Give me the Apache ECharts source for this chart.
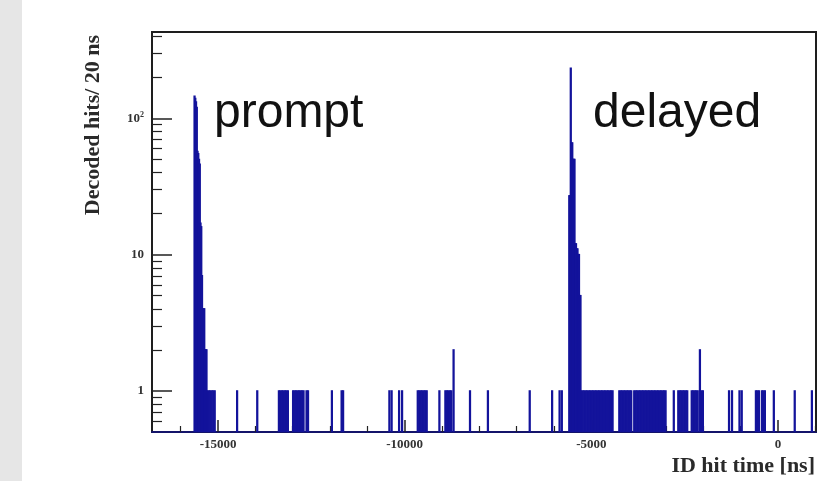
<!DOCTYPE html>
<html>
<head>
<meta charset="utf-8">
<script src="https://cdn.jsdelivr.net/npm/echarts@6/dist/echarts.min.js"></script>
<style>
  html, body { margin: 0; padding: 0; background: #ffffff; }
  #chart { width: 840px; height: 481px; }
</style>
</head>
<body>
<div id="chart"></div>
<script>
// Histogram of decoded ID hits, 20 ns bins (bin start time in ns -> hits)
const binWidthNs = 20;

// Prompt burst
const promptPeakTimes = [-15640, -15620, -15600, -15580, -15560, -15540, -15520, -15500,
  -15480, -15460, -15440, -15420, -15400, -15380, -15360, -15340, -15320];
const promptPeakCounts = [145, 140, 132, 120, 57, 55, 50, 46,
  17, 16, 7, 4, 4, 4, 2, 2, 2];

// Delayed burst
const delayedPeakTimes = [-5600, -5580, -5560, -5540, -5520, -5500, -5480, -5460,
  -5440, -5420, -5400, -5380, -5360, -5340, -5320, -5300];
const delayedPeakCounts = [27, 27, 233, 66, 66, 50, 50, 50,
  12, 12, 11, 11, 10, 10, 5, 5];

// Bins holding a single hit
const singleHitTimes = [
  -15300, -15260, -15220, -15180, -15140, -15100,
  -14500, -13960,
  -13380, -13340, -13300, -13260, -13220, -13180, -13140,
  -13000, -12960, -12920, -12880, -12840, -12800, -12760, -12720, -12640, -12600,
  -11960, -11700, -11660,
  -10420, -10360, -10160, -10080,
  -9660, -9620, -9580, -9540, -9500, -9460, -9420,
  -9080,
  -8920, -8880, -8840, -8800, -8760,
  -8260, -7780, -6660, -6060, -5860, -5800,
  -5280, -5240, -5200, -5160, -5120, -5080, -5040, -5000, -4960, -4920, -4880,
  -4840, -4800, -4760, -4720, -4680, -4640, -4600, -4560, -4520, -4480, -4440,
  -4260, -4220, -4180, -4140, -4100, -4060, -4020, -3980, -3940, -3860, -3820,
  -3780, -3740, -3700, -3660, -3620, -3580, -3540, -3500, -3460, -3420, -3380,
  -3340, -3300, -3260, -3220, -3180, -3140, -3100, -3060, -3020,
  -2800,
  -2680, -2640, -2600, -2560, -2520, -2480, -2440,
  -2320, -2280, -2240, -2200, -2160, -2060, -2020,
  -1320, -1240, -1040, -980,
  -600, -560, -520, -440, -400, -360,
  -120, 440, 900
];

// Bins holding two hits
const doubleHitTimes = [-8700, -2100];

// Axis ticks and labels
const xTickValues = [-15000, -10000, -5000, 0];
const xMinorTickValues = [-16000, -14000, -13000, -12000, -11000, -9000, -8000,
  -7000, -6000, -4000, -3000, -2000, -1000, 1000];
const yTickValues = [1, 10, 100];
const yTickLabels = ['1', '10', '10²'];
const yMinorTickValues = [0.6, 0.7, 0.8, 0.9, 2, 3, 4, 5, 6, 7, 8, 9,
  20, 30, 40, 50, 60, 70, 80, 90, 200, 300, 400];

const xRange = [-16770, 1020];
const yRange = [0.5, 430];

const histColor = '#13139b';
const serif = '"Liberation Serif", "Times New Roman", serif';
const sans = '"Liberation Sans", Arial, Helvetica, sans-serif';

// Assemble histogram bins
const bins = [];
promptPeakTimes.forEach((t, i) => bins.push([t, promptPeakCounts[i]]));
delayedPeakTimes.forEach((t, i) => bins.push([t, delayedPeakCounts[i]]));
singleHitTimes.forEach(t => bins.push([t, 1]));
doubleHitTimes.forEach(t => bins.push([t, 2]));
bins.sort((a, b) => a[0] - b[0]);

const log10 = v => Math.log10(v);
const logRange = [log10(yRange[0]), log10(yRange[1])];

// Each bin is a bar from the bottom of the axis up to its count
function renderBin(params, api) {
  const t = api.value(0);
  const n = api.value(1);
  const top = api.coord([t, n]);
  const bottom = api.coord([t + binWidthNs, yRange[0]]);
  return {
    type: 'rect',
    shape: { x: top[0], y: top[1], width: bottom[0] - top[0], height: bottom[1] - top[1] },
    style: { fill: histColor, stroke: histColor, lineWidth: 1.5 }
  };
}

const chart = echarts.init(document.getElementById('chart'), null, { renderer: 'canvas' });

chart.setOption({
  animation: false,
  backgroundColor: '#ffffff',
  grid: {
    left: 152, right: 24, top: 32, bottom: 49,
    show: true, borderColor: '#1e1e1e', borderWidth: 2, backgroundColor: 'transparent'
  },
  xAxis: [
    {
      type: 'value', min: xRange[0], max: xRange[1], position: 'bottom',
      axisLine: { show: true, onZero: false, lineStyle: { color: '#14146a', width: 2 } },
      axisTick: { show: true, inside: true, length: 12, customValues: xTickValues,
        lineStyle: { color: '#222', width: 1.5 } },
      axisLabel: {
        show: true, customValues: xTickValues, margin: 6,
        fontFamily: serif, fontWeight: 'bold', fontSize: 13, color: '#333',
        formatter: v => String(v)
      },
      splitLine: { show: false }
    },
    {
      type: 'value', min: xRange[0], max: xRange[1], position: 'bottom',
      axisLine: { show: false, onZero: false },
      axisTick: { show: true, inside: true, length: 6, customValues: xMinorTickValues,
        lineStyle: { color: '#222', width: 1.2 } },
      axisLabel: { show: false },
      splitLine: { show: false }
    }
  ],
  yAxis: [
    {
      type: 'log', logBase: 10, min: yRange[0], max: yRange[1], position: 'left', show: false,
      axisLine: { onZero: false },
      splitLine: { show: false }
    },
    {
      type: 'value', min: logRange[0], max: logRange[1], position: 'left',
      axisLine: { show: false, onZero: false },
      axisTick: { show: true, inside: true, length: 20, customValues: yTickValues.map(log10),
        lineStyle: { color: '#222', width: 1.5 } },
      axisLabel: {
        show: true, customValues: yTickValues.map(log10), margin: 8,
        fontFamily: serif, fontWeight: 'bold', fontSize: 13, color: '#333',
        formatter: v => {
          const i = yTickValues.findIndex(t => Math.abs(log10(t) - v) < 1e-6);
          return i < 0 ? '' : yTickLabels[i].replace('²', '{sup|2}');
        },
        rich: {
          sup: { fontFamily: serif, fontWeight: 'bold', fontSize: 8, color: '#333', padding: [0, 0, 7, 0] }
        }
      },
      splitLine: { show: false }
    },
    {
      type: 'value', min: logRange[0], max: logRange[1], position: 'left',
      axisLine: { show: false, onZero: false },
      axisTick: { show: true, inside: true, length: 10, customValues: yMinorTickValues.map(log10),
        lineStyle: { color: '#222', width: 1.2 } },
      axisLabel: { show: false },
      splitLine: { show: false }
    }
  ],
  series: [
    {
      type: 'custom',
      name: 'ID hits',
      coordinateSystem: 'cartesian2d',
      xAxisIndex: 0,
      yAxisIndex: 0,
      clip: true,
      renderItem: renderBin,
      encode: { x: 0, y: 1 },
      data: bins
    }
  ],
  graphic: [
    { type: 'rect', z: -10, shape: { x: 0, y: 0, width: 22, height: 481 }, style: { fill: '#e6e6e6' } },
    {
      type: 'text', x: 93, y: 125, rotation: Math.PI / 2,
      style: { text: 'Decoded hits/ 20 ns', fill: '#2a2a2a', font: 'bold 22px ' + serif,
        align: 'center', verticalAlign: 'middle' }
    },
    {
      type: 'text', x: 815, y: 466,
      style: { text: 'ID hit time [ns]', fill: '#2a2a2a', font: 'bold 22px ' + serif,
        align: 'right', verticalAlign: 'middle' }
    },
    {
      type: 'text', x: 214, y: 114,
      style: { text: 'prompt', fill: '#111111', font: '48px ' + sans, align: 'left', verticalAlign: 'middle' }
    },
    {
      type: 'text', x: 593, y: 114,
      style: { text: 'delayed', fill: '#111111', font: '48px ' + sans, align: 'left', verticalAlign: 'middle' }
    }
  ]
});
</script>
</body>
</html>
